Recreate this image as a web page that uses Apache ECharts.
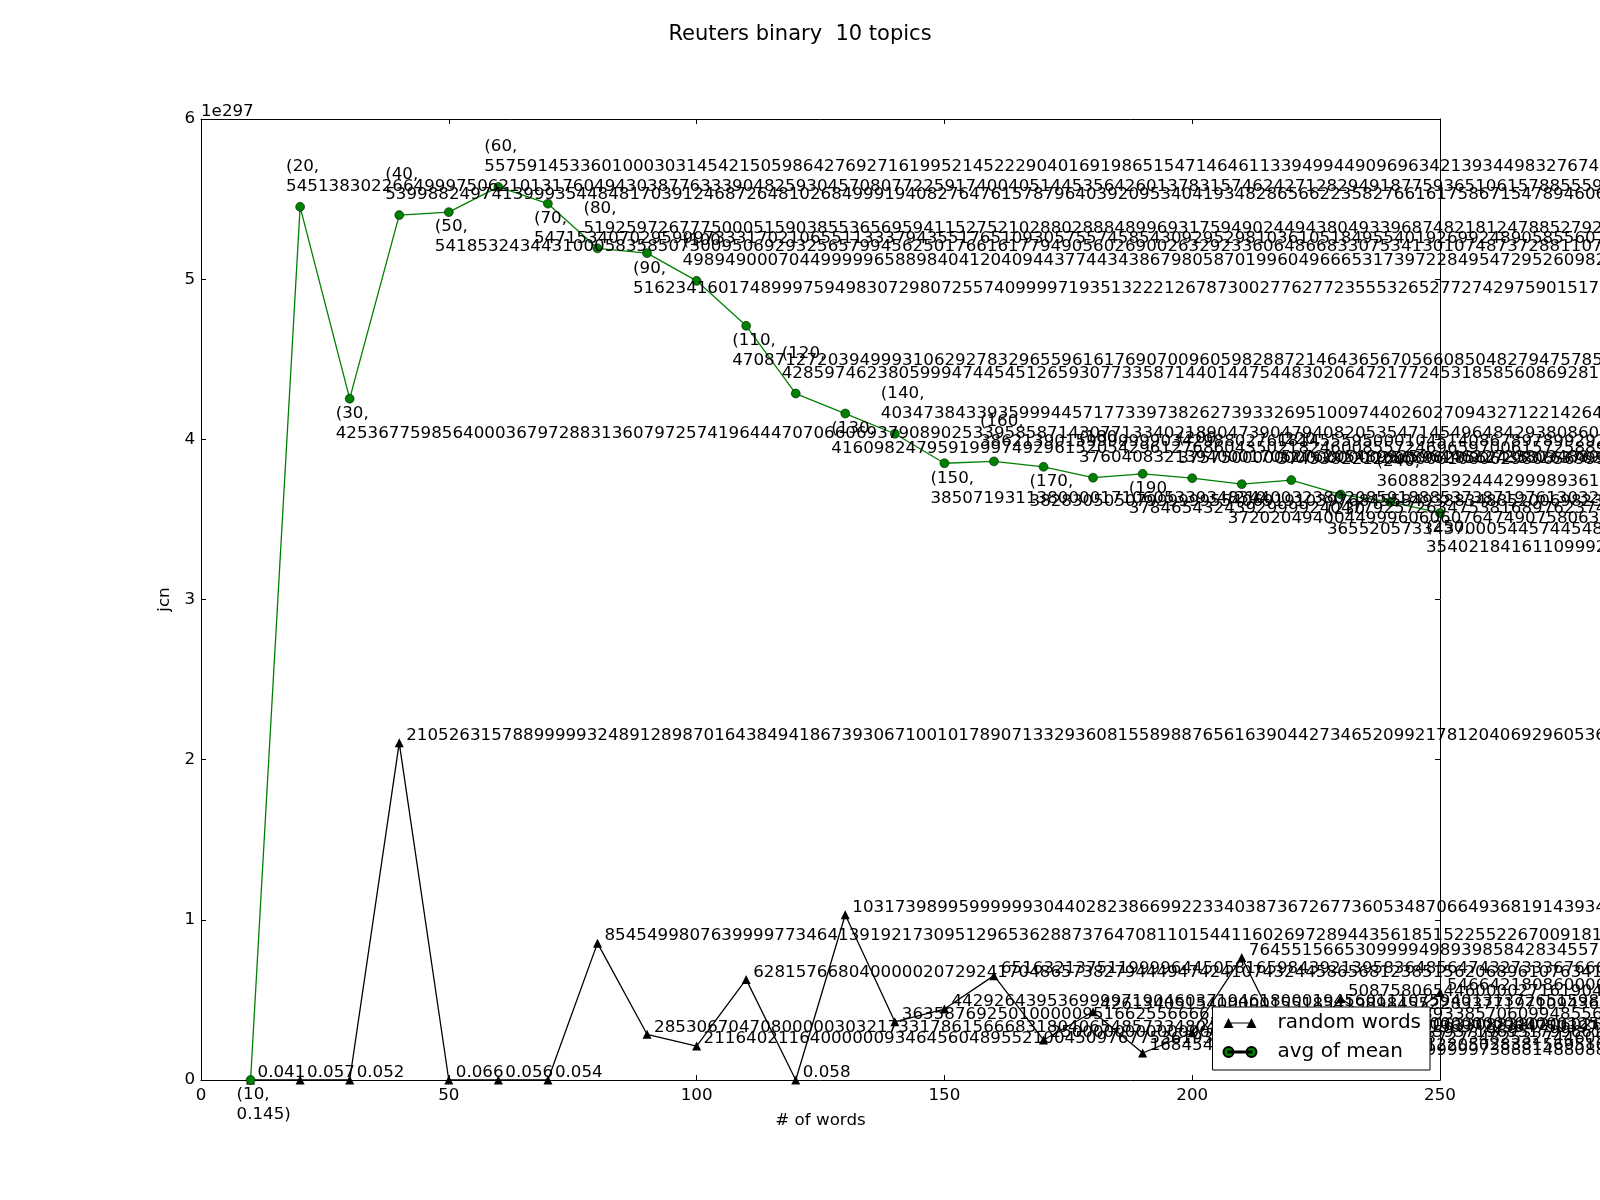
<!DOCTYPE html>
<html><head><meta charset="utf-8">
<script src="https://cdn.jsdelivr.net/npm/echarts@6/dist/echarts.min.js"></script>
<style>html,body{margin:0;padding:0;background:#fff}#c{width:1600px;height:1200px}</style>
</head><body><div id="c"></div>
<script>
const chartTitle = 'Reuters binary  10 topics';
const xName = '# of words';
const yName = 'jcn';
const offsetText = '1e297';
const SCALE = 1e297;
const seriesNames = ['random words', 'avg of mean'];
const words = [10, 20, 30, 40, 50, 60, 70, 80, 90, 100, 110, 120, 130, 140, 150, 160, 170, 180, 190, 200, 210, 220, 230, 240, 250];
const randomWords = [0.041, 0.057, 0.052, 2.10526315789e297, 0.066, 0.056, 0.054, 8.54549980764e296, 2.85306704708e296, 2.1164021164e296,
  6.2815766804e296, 0.058, 1.0317398996e297, 3.63587692501e296, 4.42926439537e296, 6.51632137512e296, 2.5e296, 4.2613405154e296,
  1.68454e296, 2.95e296, 7.64551566531e296, 1.4e296, 5.08758065446e296, 3.0e296, 5.4664218086e296];
const avgOfMean = [0.145, 5.451383022665e297, 4.25367759856400036797e297, 5.3998824974139993545e297, 5.4185324344310005836e297,
  5.575914533601e297, 5.471534070296e297, 5.1925972677750005159e297, 5.162341601749e297, 4.989490007045e297,
  4.7087127203949993106e297, 4.2859746238059994745e297, 4.160982479592e297, 4.0347384339359994457e297, 3.85071931138e297,
  3.862139016e297, 3.8283050508e297, 3.760408321394e297, 3.784654324393e297, 3.7575e297, 3.7202049400449996061e297,
  3.745382212e297, 3.6552057334370006919e297, 3.608823924443e297, 3.5402184161109992e297];
const xMin = 0, xMax = 250, xStep = 50;
const yMin = 0, yMax = 6, yStep = 1;

const FONT = 'DejaVu Sans';
const FS = 16.7;
function valueText(v) { return Math.abs(v) < 1e15 ? String(v) : BigInt(v).toString(); }
const blackLabels = randomWords.map(v => valueText(v));
const greenLabels = avgOfMean.map((v, i) => '(' + words[i] + ',\n' + valueText(v) + ')');

const triPath = 'path://M0,10 L5,0 L10,10 Z M5,4.4 L28,4.4 L28,5.6 L5,5.6 Z M23,10 L28,0 L33,10 Z';
const circPath = 'path://M0,5 A5,5 0 1,1 10,5 A5,5 0 1,1 0,5 Z M5,4.4 L28,4.4 L28,5.6 L5,5.6 Z M23,5 A5,5 0 1,1 33,5 A5,5 0 1,1 23,5 Z';

const chart = echarts.init(document.getElementById('c'), null, { renderer: 'canvas' });
const axisCommonX = {
  type: 'value', min: xMin, max: xMax, interval: xStep,
  splitLine: { show: false },
  axisLine: { show: true, onZero: false, lineStyle: { color: '#000', width: 1 } },
  axisTick: { show: true, inside: true, length: 5, lineStyle: { color: '#000' } }
};
const axisCommonY = {
  type: 'value', min: yMin, max: yMax, interval: yStep,
  splitLine: { show: false },
  axisLine: { show: true, onZero: false, lineStyle: { color: '#000', width: 1 } },
  axisTick: { show: true, inside: true, length: 5, lineStyle: { color: '#000' } }
};
chart.setOption({
  animation: false,
  backgroundColor: '#fff',
  title: { text: chartTitle, left: 'center', top: 19, textStyle: { fontSize: 21, fontWeight: 'normal', color: '#000', fontFamily: FONT } },
  grid: { left: 201, right: 160, top: 119, bottom: 120 },
  xAxis: [
    Object.assign({}, axisCommonX, { position: 'bottom', name: xName, nameLocation: 'middle', nameGap: 32,
      nameTextStyle: { fontSize: FS, color: '#000', fontFamily: FONT },
      axisLabel: { show: true, margin: 7, fontSize: FS, color: '#000', fontFamily: FONT } }),
    Object.assign({}, axisCommonX, { position: 'top', axisLabel: { show: false } })
  ],
  yAxis: [
    Object.assign({}, axisCommonY, { position: 'left', name: yName, nameLocation: 'middle', nameGap: 25, nameRotate: 90,
      nameTextStyle: { fontSize: FS, color: '#000', fontFamily: FONT },
      axisLabel: { show: true, margin: 6, fontSize: FS, color: '#000', fontFamily: FONT } }),
    Object.assign({}, axisCommonY, { position: 'right', axisLabel: { show: false } })
  ],
  legend: {
    orient: 'vertical', right: 170, bottom: 130,
    backgroundColor: '#fff', borderColor: '#000', borderWidth: 1, borderRadius: 0,
    padding: [6, 9, 8, 10], itemGap: 9, itemWidth: 33, itemHeight: 10,
    textStyle: { fontSize: 20, color: '#000', fontFamily: FONT, padding: [0, 0, 0, 16] },
    data: [{ name: seriesNames[0], icon: triPath }, { name: seriesNames[1], icon: circPath }],
    selectedMode: false, z: 10
  },
  graphic: [{ type: 'text', left: 201, top: 103, style: { text: offsetText, font: FS + 'px "' + FONT + '"', fill: '#000' } }],
  series: [
    {
      name: seriesNames[0], type: 'line', showAllSymbol: true,
      data: randomWords.map((v, i) => [words[i], v / SCALE]),
      symbol: 'triangle', symbolSize: 9,
      lineStyle: { color: '#000', width: 1.3 }, itemStyle: { color: '#000' },
      label: { show: true, position: 'inside', align: 'left', verticalAlign: 'middle', offset: [7, -7],
        color: '#000', fontSize: FS, fontFamily: FONT, formatter: p => blackLabels[p.dataIndex] },
      emphasis: { disabled: true }
    },
    {
      name: seriesNames[1], type: 'line', showAllSymbol: true,
      data: avgOfMean.map((v, i) => ({
        value: [words[i], v / SCALE],
        label: (i % 2 === 0) ? { verticalAlign: 'top', offset: [-14, 5] } : { verticalAlign: 'bottom', offset: [-14, -10] }
      })),
      symbol: 'circle', symbolSize: 9,
      lineStyle: { color: '#008000', width: 1.3 }, itemStyle: { color: '#008000', borderColor: '#000', borderWidth: 0.5 },
      label: { show: true, position: 'inside', align: 'left', lineHeight: 20,
        color: '#000', fontSize: FS, fontFamily: FONT, formatter: p => greenLabels[p.dataIndex] },
      emphasis: { disabled: true }
    }
  ]
});
</script>
</body></html>
